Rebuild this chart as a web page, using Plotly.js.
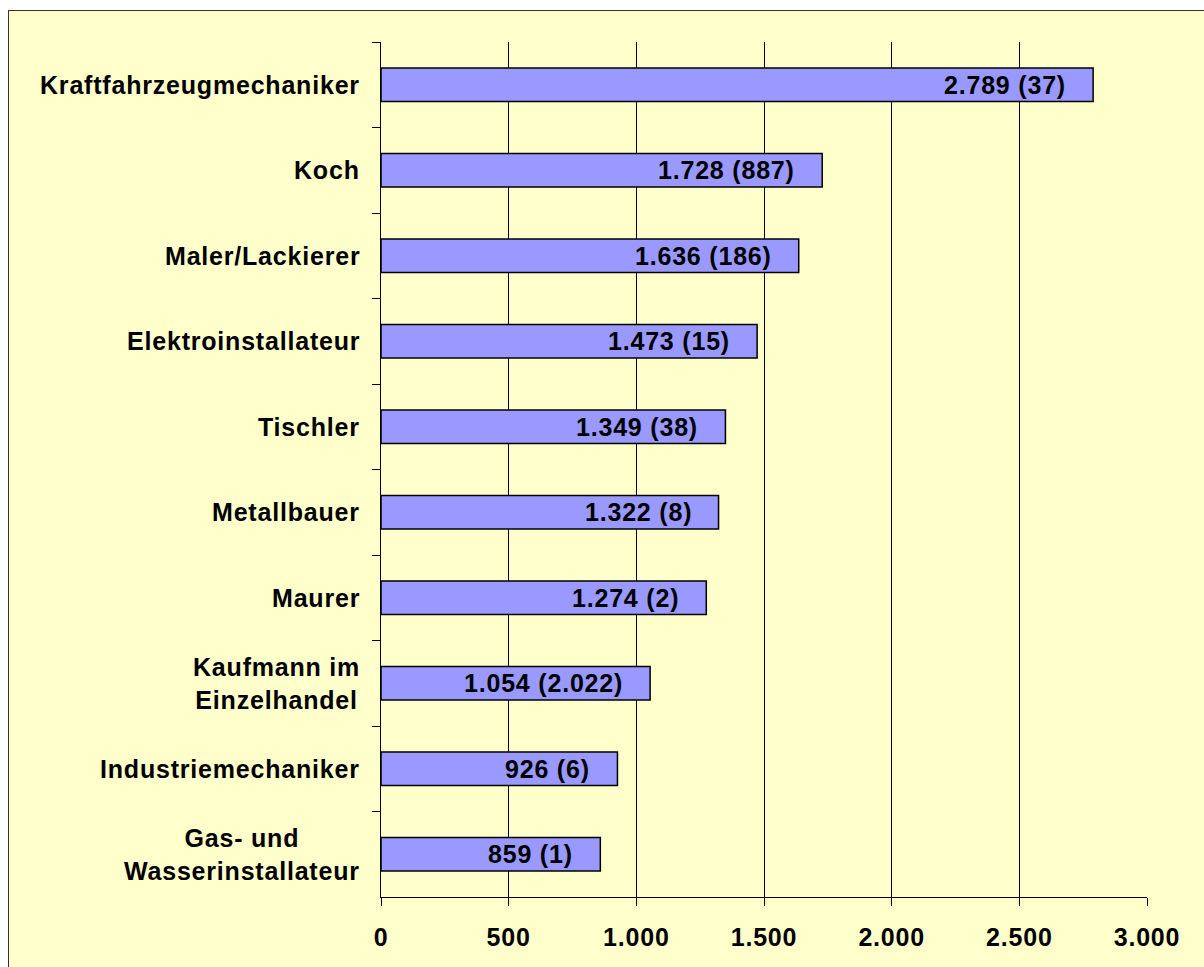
<!DOCTYPE html>
<html>
<head>
<meta charset="utf-8">
<script src="https://cdn.plot.ly/plotly-3.0.1.min.js"></script>
<style>
  html, body { margin: 0; padding: 0; background: #ffffff; width: 1204px; height: 967px; overflow: hidden; }
  #frame { position: absolute; left: 8px; top: 10px; width: 1204px; height: 967px; background: #FFFFCC; border: 1px solid #333333; }
  #chart { position: absolute; left: 0; top: 0; width: 1204px; height: 967px; }
  text { letter-spacing: 0.8px; }
</style>
</head>
<body>
<div id="frame"></div>
<div id="chart"></div>
<script>
// Categories, top to bottom
const categories = [
  "Kraftfahrzeugmechaniker",
  "Koch",
  "Maler/Lackierer",
  "Elektroinstallateur",
  "Tischler",
  "Metallbauer",
  "Maurer",
  "Kaufmann im<br>Einzelhandel",
  "Industriemechaniker",
  "Gas- und<br>Wasserinstallateur"
];
const values = [2789, 1728, 1636, 1473, 1349, 1322, 1274, 1054, 926, 859];
const counts = [37, 887, 186, 15, 38, 8, 2, 2022, 6, 1];
const xTicks = [0, 500, 1000, 1500, 2000, 2500, 3000];

function fmt(n) {
  return String(n).replace(/\B(?=(\d{3})+(?!\d))/g, ".");
}

const FONT = "'Liberation Sans', Arial, sans-serif";
const FS = 25;

const trace = {
  type: "bar",
  orientation: "h",
  x: values,
  y: categories,
  marker: { color: "#9999FF", line: { color: "#000000", width: 1.5 } },
  hoverinfo: "none"
};

const annotations = [];
categories.forEach((c, i) => {
  annotations.push({
    xref: "paper", x: 0, yref: "y", y: c,
    text: c, showarrow: false, xanchor: "right", yanchor: "middle",
    align: "center", xshift: -19,
    font: { family: FONT, size: FS, color: "#000", weight: "bold" }
  });
  annotations.push({
    xref: "x", x: values[i], yref: "y", y: c,
    text: fmt(values[i]) + " (" + fmt(counts[i]) + ")",
    showarrow: false, xanchor: "right", yanchor: "middle", xshift: -25,
    font: { family: FONT, size: FS, color: "#000", weight: "bold" }
  });
});

const layout = {
  width: 1204,
  height: 967,
  margin: { l: 381, r: 57, t: 42, b: 70, pad: 0 },
  paper_bgcolor: "rgba(0,0,0,0)",
  plot_bgcolor: "rgba(0,0,0,0)",
  separators: ",.",
  showlegend: false,
  bargap: 0.61,
  font: { family: FONT, size: FS, color: "#000" },
  xaxis: {
    range: [0, 3000],
    tickvals: xTicks,
    ticktext: xTicks.map(fmt),
    showgrid: true,
    gridcolor: "#000000",
    gridwidth: 1,
    zeroline: false,
    showline: true,
    linecolor: "#000000",
    linewidth: 1,
    ticks: "outside",
    ticklen: 8,
    tickcolor: "#000000",
    ticklabelstandoff: 10,
    tickfont: { family: FONT, size: FS, color: "#000", weight: "bold" },
    fixedrange: true
  },
  yaxis: {
    type: "category",
    categoryorder: "array",
    categoryarray: categories,
    autorange: "reversed",
    showgrid: false,
    zeroline: false,
    showline: true,
    linecolor: "#000000",
    linewidth: 1,
    ticks: "outside",
    tickson: "boundaries",
    ticklen: 8,
    tickcolor: "#000000",
    showticklabels: false,
    fixedrange: true
  },
  annotations: annotations
};

Plotly.newPlot("chart", [trace], layout, { displayModeBar: false, staticPlot: true });
</script>
</body>
</html>
